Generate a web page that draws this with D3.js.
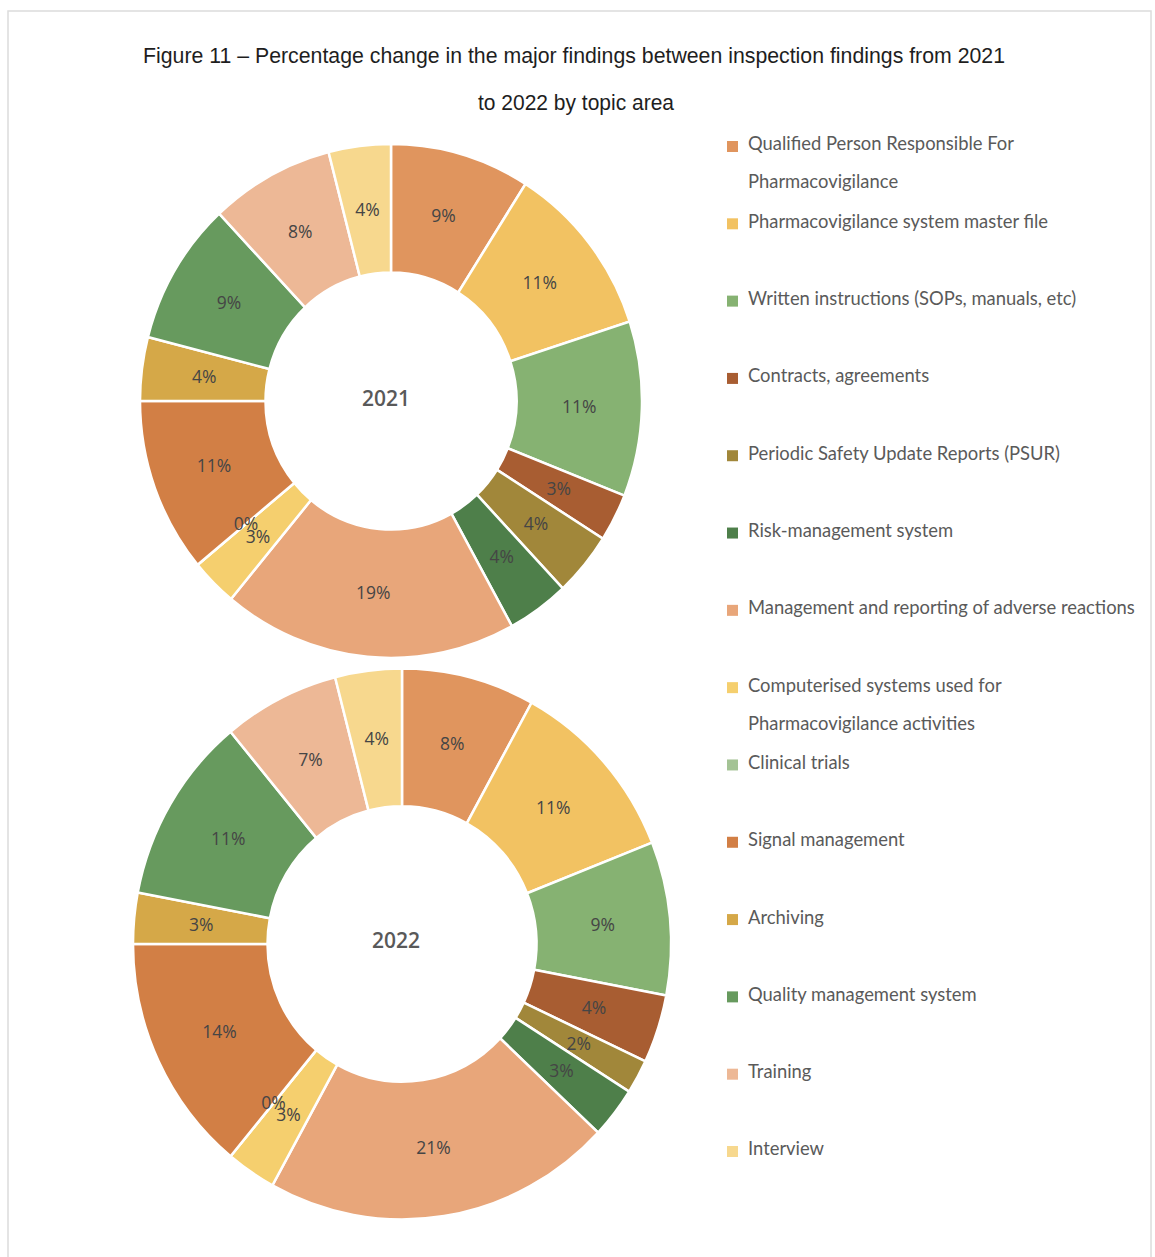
<!DOCTYPE html>
<html>
<head>
<meta charset="utf-8">
<script src="https://cdn.jsdelivr.net/npm/d3@7/dist/d3.min.js"></script>
<style>
  html, body { margin: 0; padding: 0; background: #ffffff; }
  svg { display: block; }
</style>
</head>
<body>
<svg id="chart" width="1155" height="1257"></svg>
<script>
// Topic areas of the major inspection findings (legend order = slice order, clockwise from 12 o'clock)
const topics = [
  "Qualified Person Responsible For\nPharmacovigilance",
  "Pharmacovigilance system master file",
  "Written instructions (SOPs, manuals, etc)",
  "Contracts, agreements",
  "Periodic Safety Update Reports (PSUR)",
  "Risk-management system",
  "Management and reporting of adverse reactions",
  "Computerised systems used for\nPharmacovigilance activities",
  "Clinical trials",
  "Signal management",
  "Archiving",
  "Quality management system",
  "Training",
  "Interview"
];

// Share of major findings per topic area (%)
const share2021 = [9, 11, 11, 3, 4, 4, 19, 3, 0, 11, 4, 9, 8, 4];
const share2022 = [8, 11, 9, 4, 2, 3, 21, 3, 0, 14, 3, 11, 7, 4];
const years = ["2021", "2022"];

const palette = [
  "#e0955e", "#f2c262", "#86b272", "#a85d32", "#a1873a", "#4e7f4a", "#e8a67a",
  "#f5cf6e", "#a4c395", "#d27f45", "#d5a848", "#679a5e", "#edb896", "#f7d88e"
];

const titleLines = [
  "Figure 11 \u2013 Percentage change in the major findings between inspection findings from 2021",
  "to 2022 by topic area"
];

const svg = d3.select("#chart");

// light frame around the figure
svg.append("rect")
  .attr("x", 8).attr("y", 11)
  .attr("width", 1143).attr("height", 1270)
  .attr("fill", "none")
  .attr("stroke", "#dcdcdc")
  .attr("stroke-width", 1.5);

// title
const titleFont = "'Liberation Sans Narrow', 'Liberation Sans', sans-serif";
svg.append("text")
  .attr("x", 574).attr("y", 63)
  .attr("text-anchor", "middle")
  .attr("font-family", titleFont)
  .attr("font-size", 22)
  .attr("font-weight", 500)
  .attr("fill", "#1e1e1e")
  .attr("textLength", 862)
  .attr("lengthAdjust", "spacingAndGlyphs")
  .text(titleLines[0]);
svg.append("text")
  .attr("x", 576).attr("y", 110)
  .attr("text-anchor", "middle")
  .attr("font-family", titleFont)
  .attr("font-size", 22)
  .attr("font-weight", 500)
  .attr("fill", "#1e1e1e")
  .attr("textLength", 196)
  .attr("lengthAdjust", "spacingAndGlyphs")
  .text(titleLines[1]);

const color = d3.scaleOrdinal().domain(topics).range(palette);

const pie = d3.pie().sort(null).value(d => d.value);

// one donut per year
const donuts = [
  { year: years[0], values: share2021, cx: 391, cy: 401, r: 251, stretch: 1.024, labelDx: -5, labelDy: -2 },
  { year: years[1], values: share2022, cx: 402, cy: 944, r: 269, stretch: 1.024, labelDx: -6, labelDy: -3 }
];

donuts.forEach(dn => {
  const data = topics.map((t, i) => ({ topic: t, value: dn.values[i] }));
  const arcs = pie(data);
  const arc = d3.arc().innerRadius(dn.r * 0.5).outerRadius(dn.r);

  const g = svg.append("g")
    .attr("transform", `translate(${dn.cx},${dn.cy})`);

  g.append("g")
    .attr("transform", `scale(1,${dn.stretch})`)
    .selectAll("path")
    .data(arcs)
    .join("path")
    .attr("d", arc)
    .attr("fill", d => color(d.data.topic))
    .attr("stroke", "#ffffff")
    .attr("stroke-width", 2.5)
    .attr("stroke-linejoin", "miter");

  g.selectAll("text.pct")
    .data(arcs)
    .join("text")
    .attr("class", "pct")
    .attr("x", d => arc.centroid(d)[0])
    .attr("y", d => arc.centroid(d)[1] * dn.stretch)
    .attr("dy", "0.35em")
    .attr("text-anchor", "middle")
    .attr("font-family", "'Open Sans', 'DejaVu Sans', sans-serif")
    .attr("font-size", 17.5)
    .attr("fill", "#454545")
    .text(d => d.data.value + "%");

  g.append("text")
    .attr("x", dn.labelDx)
    .attr("y", dn.labelDy)
    .attr("dy", "0.35em")
    .attr("text-anchor", "middle")
    .attr("font-family", "'Open Sans', 'DejaVu Sans', sans-serif")
    .attr("font-size", 21)
    .attr("font-weight", 600)
    .attr("fill", "#595959")
    .text(dn.year);
});

// legend
const legendY = d3.scalePoint().domain(topics).range([144, 1149]);
const legend = svg.append("g").attr("font-family", "Lato, 'Open Sans', sans-serif");
const item = legend.selectAll("g")
  .data(topics)
  .join("g")
  .attr("transform", d => `translate(0,${legendY(d)})`);

item.append("rect")
  .attr("x", 727).attr("y", -3)
  .attr("width", 11).attr("height", 11)
  .attr("fill", d => color(d));

item.each(function (d) {
  const lines = d.split("\n");
  d3.select(this).selectAll("text")
    .data(lines)
    .join("text")
    .attr("x", 748)
    .attr("y", (l, i) => i * 38)
    .attr("dy", "0.35em")
    .attr("font-size", 18.4)
    .attr("fill", "#5a5a5a")
    .text(l => l);
});
</script>
</body>
</html>
